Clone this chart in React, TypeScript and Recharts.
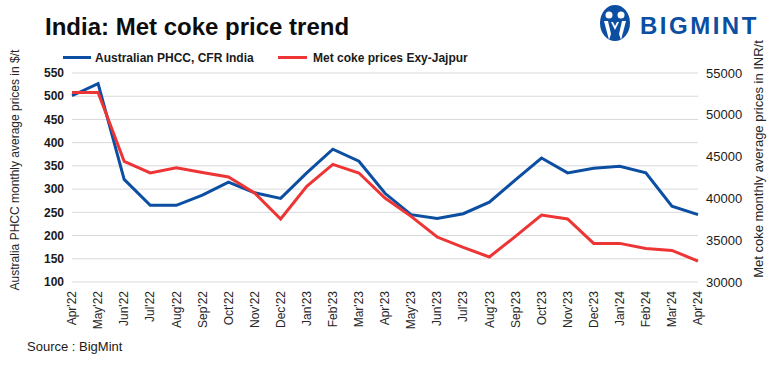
import React from "react";
import { LineChart, Line, XAxis, YAxis, CartesianGrid } from "recharts";

const months = [
  "Apr'22", "May'22", "Jun'22", "Jul'22", "Aug'22", "Sep'22", "Oct'22", "Nov'22", "Dec'22",
  "Jan'23", "Feb'23", "Mar'23", "Apr'23", "May'23", "Jun'23", "Jul'23", "Aug'23", "Sep'23",
  "Oct'23", "Nov'23", "Dec'23", "Jan'24", "Feb'24", "Mar'24", "Apr'24",
];
const phccUsd = [
  501, 527, 321, 265, 265, 287, 315, 292, 280, 335, 386, 360, 291, 245, 237, 247, 272, 320,
  367, 335, 345, 349, 335, 263, 245,
];
const cokeInr = [
  52680, 52680, 44430, 43040, 43670, 43110, 42560, 40650, 37540, 41440, 44070, 43040, 40050,
  37850, 35380, 34140, 32990, 35450, 38010, 37540, 34620, 34620, 34020, 33780, 32510,
];
const leftTicks = [100, 150, 200, 250, 300, 350, 400, 450, 500, 550];
const rightTicks = [30000, 35000, 40000, 45000, 50000, 55000];

const seriesNames = ["Australian PHCC, CFR India", "Met coke prices Exy-Jajpur"];
const BLUE = "#0b4ea2";
const RED = "#ee3535";
const FONT = "'Liberation Sans', Arial, sans-serif";

const data = months.map((m, i) => ({ month: m, phcc: phccUsd[i], coke: cokeInr[i] }));

const XTick = (props: any) => {
  const { x, y, payload } = props;
  return (
    <g transform={`translate(${x},${y + 1}) rotate(-90)`}>
      <text textAnchor="end" dy="0.35em" fontSize={12} fill="#262626" fontFamily={FONT}>
        {payload.value}
      </text>
    </g>
  );
};

export default function App() {
  return (
    <div style={{ position: "absolute", left: 0, top: 0, width: 779, height: 371, background: "#fff" }}>
      <LineChart
        width={779}
        height={371}
        data={data}
        margin={{ top: 73, right: 0, bottom: 29, left: 0 }}
      >
        <CartesianGrid yAxisId="left" vertical={false} stroke="#d9d9d9" strokeWidth={1} />
        <XAxis
          dataKey="month"
          interval={0}
          height={60}
          axisLine={false}
          tickLine={false}
          tick={<XTick />}
        />
        <YAxis
          yAxisId="left"
          orientation="left"
          width={72}
          domain={[100, 550]}
          ticks={leftTicks}
          axisLine={false}
          tickLine={false}
          tick={{ fontSize: 12, fontWeight: "bold", fill: "#1a1a1a", fontFamily: FONT }}
        />
        <YAxis
          yAxisId="right"
          orientation="right"
          width={81}
          domain={[30000, 55000]}
          ticks={rightTicks}
          axisLine={false}
          tickLine={false}
          tick={{ fontSize: 13, fill: "#1a1a1a", fontFamily: FONT, textAnchor: "start" }}
        />
        <Line
          yAxisId="left"
          dataKey="phcc"
          name={seriesNames[0]}
          stroke={BLUE}
          strokeWidth={3}
          dot={false}
          isAnimationActive={false}
        />
        <Line
          yAxisId="right"
          dataKey="coke"
          name={seriesNames[1]}
          stroke={RED}
          strokeWidth={3}
          dot={false}
          isAnimationActive={false}
        />
      </LineChart>
      <svg
        width={779}
        height={371}
        style={{ position: "absolute", left: 0, top: 0, pointerEvents: "none" }}
      >
        <text x={45} y={35} fontSize={24} fontWeight="bold" fill="#0d0d0d" fontFamily={FONT}>
          India: Met coke price trend
        </text>
        {/* legend */}
        <line x1={63} y1={57.5} x2={91} y2={57.5} stroke={BLUE} strokeWidth={3} />
        <text x={95} y={61.5} fontSize={12} fontWeight="bold" fill="#1a1a1a" fontFamily={FONT}>
          {seriesNames[0]}
        </text>
        <line x1={278} y1={57.5} x2={307} y2={57.5} stroke={RED} strokeWidth={3} />
        <text x={313} y={61.5} fontSize={12} fontWeight="bold" fill="#1a1a1a" fontFamily={FONT}>
          {seriesNames[1]}
        </text>
        {/* axis titles */}
        <text
          transform="translate(19,170) rotate(-90)"
          textAnchor="middle"
          fontSize={12}
          fill="#262626"
          fontFamily={FONT}
        >
          Australia PHCC monthly average prices in $/t
        </text>
        <text
          transform="translate(763,159) rotate(-90)"
          textAnchor="middle"
          fontSize={13}
          fill="#262626"
          fontFamily={FONT}
        >
          Met coke monthly average prices in INR/t
        </text>
        {/* source */}
        <text x={27} y={351} fontSize={13} fill="#1a1a1a" fontFamily={FONT}>
          Source : BigMint
        </text>
        {/* logo */}
        <ellipse cx={615} cy={23} rx={15} ry={18} fill={BLUE} />
        <circle cx={609} cy={15} r={3.5} fill="#fff" />
        <circle cx={621} cy={15} r={3.5} fill="#fff" />
        <path d="M604 21 L608 21 L611 34 L609 40 Z" fill="#fff" />
        <path d="M626 21 L622 21 L619 34 L621 40 Z" fill="#fff" />
        <path d="M611 22 L615 30 L619 22 L617 22 L615 26 L613 22 Z" fill="#fff" />
        <text
          x={640}
          y={34}
          fontSize={24}
          fontWeight="bold"
          fill={BLUE}
          fontFamily={FONT}
          letterSpacing={2.5}
        >
          BIGMINT
        </text>
      </svg>
    </div>
  );
}
